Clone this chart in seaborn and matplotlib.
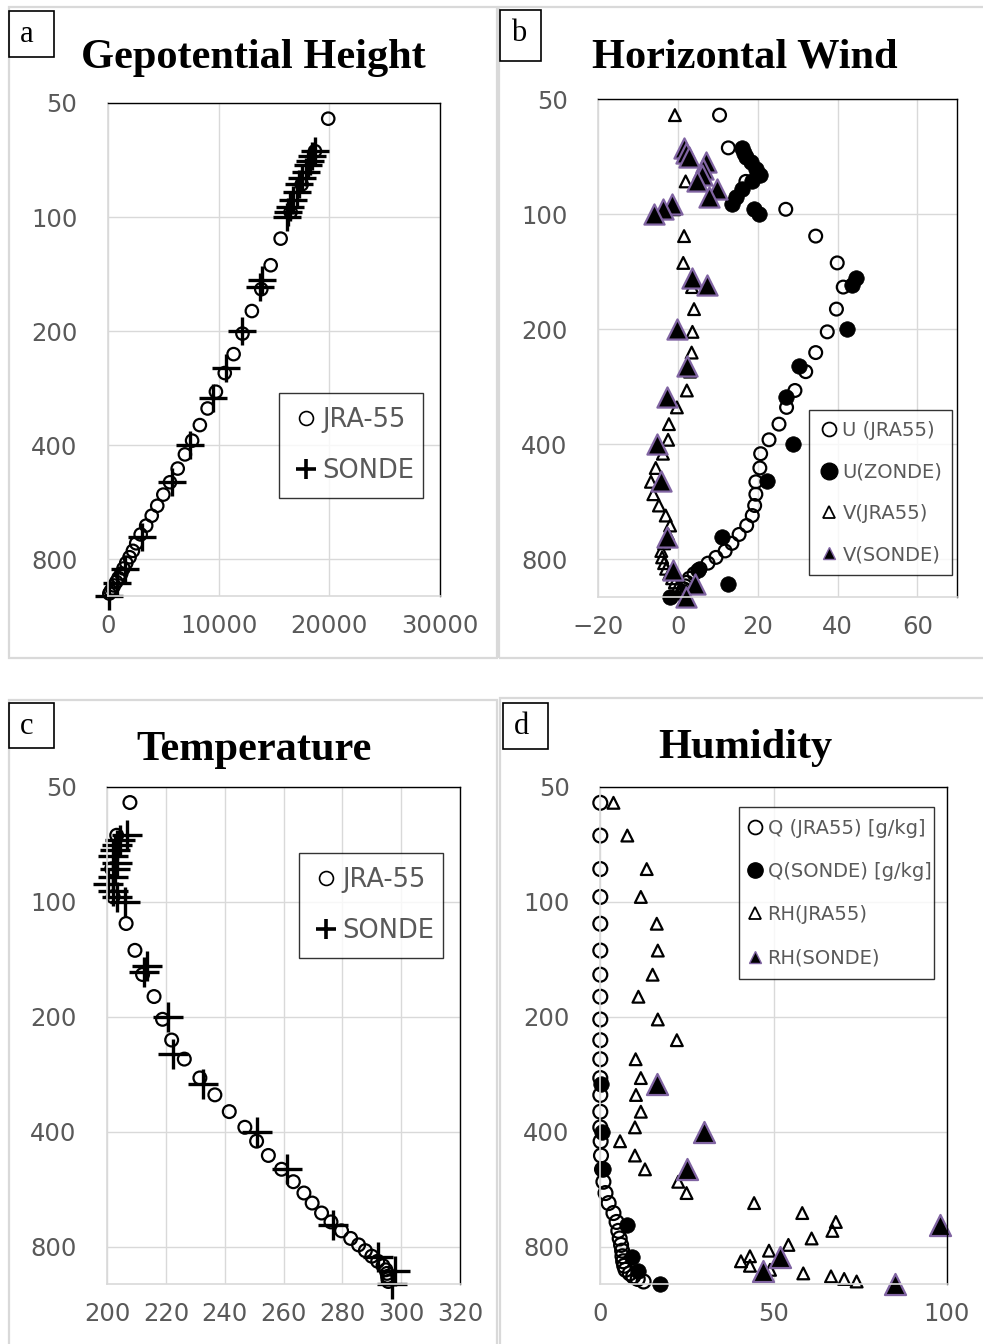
import matplotlib
matplotlib.use("Agg")
import matplotlib.pyplot as plt
from matplotlib.patches import Rectangle
from matplotlib.lines import Line2D
from matplotlib.ticker import NullLocator
import pandas as pd
import seaborn as sns

sns.set_style("white")
plt.rcParams['font.family'] = ['DejaVu Sans']

# ---- data ----
# JRA-55 levels (hPa)
jra_p = [55, 67, 82, 97, 114, 134, 155, 177, 203, 230, 258, 289, 320, 354, 389, 423, 461, 501,
         540, 578, 614, 652, 688, 726, 760, 790, 818, 846, 872, 896, 918, 938, 955, 970, 985]
jra_z = [19900, 18700, 17500, 16500, 15600, 14700, 13850, 13000, 12150, 11350,
         10550, 9750, 9000, 8300, 7600, 6950, 6300, 5600, 5000, 4450,
         3950, 3450, 2950, 2550, 2250, 1950, 1650, 1400, 1200, 950,
         750, 550, 400, 250, 120]
jra_t = [207.7, 203.2, 201.5, 202.0, 206.4, 209.4, 212.0, 215.9, 218.8, 221.9,
         226.2, 231.5, 236.6, 241.5, 246.8, 250.8, 254.8, 259.3, 263.3, 266.9,
         269.7, 272.9, 276.1, 279.7, 282.8, 285.5, 287.8, 290.0, 292.0, 293.8,
         294.8, 295.2, 295.4, 295.5, 295.6]
jra_u = [10.4, 12.6, 17.0, 27.0, 34.5, 39.9, 41.4, 39.7, 37.4, 34.5,
         32.0, 29.3, 27.2, 25.3, 22.8, 20.7, 20.5, 19.5, 19.5, 19.2,
         18.6, 17.2, 15.3, 13.5, 11.8, 9.5, 7.5, 5.5, 4.0, 2.8,
         2.2, 1.8, 1.5, 1.2, 1.0]
jra_v = [-0.8, 1.5, 1.9, -1.0, 1.5, 1.3, 3.5, 4.0, 3.6, 3.4,
         3.0, 2.2, -0.3, -2.3, -2.5, -3.8, -5.6, -6.8, -6.2, -4.8,
         -3.1, -2.0, -2.5, -3.5, -4.2, -4.0, -3.5, -3.0, -2.2, -1.5,
         -0.8, 0.0, 0.8, 1.3, 1.8]
jra_q = [0.0, 0.0, 0.0, 0.0, 0.0, 0.0, 0.0, 0.0, 0.0, 0.0,
         0.0, 0.0, 0.0, 0.0, 0.0, 0.1, 0.2, 0.5, 0.9, 1.5,
         2.4, 3.8, 4.7, 5.2, 5.6, 6.0, 6.3, 6.4, 6.6, 6.9,
         7.3, 8.5, 9.5, 10.8, 12.5]
jra_rh = [3.8, 7.8, 13.4, 11.7, 16.3, 16.6, 15.1, 11.0, 16.6, 22.1,
          10.2, 11.7, 10.3, 11.7, 10.0, 5.7, 10.0, 12.9, 22.5, 24.9,
          44.4, 58.3, 68.0, 67.0, 61.0, 54.3, 48.7, 43.2, 40.6, 43.2,
          49.0, 58.6, 66.6, 70.4, 74.0]

# radiosonde levels (hPa)
sonde_p = [67, 69, 71, 73, 76, 79, 82, 86, 90, 94, 97, 100,
           147, 153, 200, 250, 300, 400, 500, 700, 850, 925, 1000]
sonde_z = [18700, 18400, 18250, 18100, 17900, 17500, 17250, 17040, 16740, 16440, 16290, 16140,
           13900, 13700, 12100, 10700, 9500, 7400, 5800, 3050, 1550, 800, 60]
sonde_t = [206.6, 204.3, 203.2, 202.5, 202.0, 203.2, 202.5, 202.0, 200.3, 202.0, 203.2, 206.0,
           213.5, 212.5, 220.7, 222.4, 232.7, 250.8, 261.0, 276.9, 292.2, 298.0, 296.7]
sonde_u = [16.1, 16.5, 17.0, 18.2, 19.5, 20.5, 18.5, 16.0, 14.5, 13.6, 19.0, 20.3,
           44.5, 43.5, 42.3, 30.3, 27.0, 28.9, 22.4, 11.1, 5.0, 12.5, -2.0]
sonde_v = [1.5, 1.9, 2.7, 6.9, 6.3, 6.0, 4.8, 9.8, 7.7, -1.4, -3.9, -6.0,
           3.6, 7.3, -0.3, 2.3, -2.8, -5.3, -4.3, -2.7, -1.2, 4.3, 1.9]
moist_p = [300, 400, 500, 700, 850, 925, 1000]
sonde_q = [0.2, 0.4, 0.9, 7.6, 9.1, 11.0, 17.2]
sonde_rh = [16.3, 29.9, 24.9, 98.0, 52.0, 47.0, 85.0]

p_ticks = [50, 100, 200, 400, 800]

jra = pd.DataFrame({'p': jra_p, 'z': jra_z, 't': jra_t, 'u': jra_u, 'v': jra_v,
                    'q': jra_q, 'rh': jra_rh})
sonde = pd.DataFrame({'p': sonde_p, 'z': sonde_z, 't': sonde_t, 'u': sonde_u, 'v': sonde_v})
moist = pd.DataFrame({'p': moist_p, 'q': sonde_q, 'rh': sonde_rh})

GRID = '#d9d9d9'
TICK = '#595959'
PURPLE = '#8064A2'
W, H = 983, 1344

fig = plt.figure(figsize=(W / 100, H / 100), dpi=100)


def px_axes(x0, y0, x1, y1):
    return fig.add_axes([x0 / W, 1 - y1 / H, (x1 - x0) / W, (y1 - y0) / H])


def frame(x0, y0, x1, y1, **kw):
    fig.add_artist(Rectangle((x0 / W, 1 - y1 / H), (x1 - x0) / W, (y1 - y0) / H,
                             transform=fig.transFigure, fill=False, **kw))


def style(ax, xlim, xticks, xlabels):
    ax.set_yscale('log', base=2)
    ax.set_ylim(1000, 50)
    ax.set_yticks(p_ticks)
    ax.set_yticklabels([str(v) for v in p_ticks])
    ax.yaxis.set_minor_locator(NullLocator())
    ax.set_xlim(*xlim)
    ax.set_xticks(xticks)
    ax.set_xticklabels(xlabels)
    ax.set_xlabel('')
    ax.set_ylabel('')
    ax.grid(True, color=GRID, lw=1.0)
    ax.set_axisbelow(True)
    ax.tick_params(length=0, labelsize=17.5, labelcolor=TICK)
    ax.tick_params(axis='y', pad=22)
    ax.tick_params(axis='x', pad=13)
    for s in ['top', 'right']:
        ax.spines[s].set_color('black')
        ax.spines[s].set_linewidth(1.0)
    for s in ['left', 'bottom']:
        ax.spines[s].set_color(GRID)
        ax.spines[s].set_linewidth(1.2)


def panel_deco(letter, box, title, tx, ty):
    x0, y0, x1, y1 = box
    frame(x0, y0, x1, y1, ec='black', lw=1.2, zorder=5)
    fig.text((x0 + 11) / W, 1 - (y0 + 31) / H, letter, family='Liberation Serif',
             fontsize=22, va='baseline', ha='left', color='black')
    fig.text(tx / W, 1 - ty / H, title, family='Liberation Serif', fontweight='bold',
             fontsize=30.5, va='baseline', ha='center', color='black')


def legend(ax, handles, labels, box, fs, ls, bp, hl, htp):
    x0, y0, x1, y1 = box
    leg = ax.legend(handles, labels, loc='upper left', mode='expand',
                    bbox_to_anchor=(x0 / W, 1 - y0 / H, (x1 - x0) / W, 0),
                    bbox_transform=fig.transFigure, borderaxespad=0,
                    fontsize=fs, labelspacing=ls, borderpad=bp, handlelength=hl,
                    handletextpad=htp, frameon=True, fancybox=False,
                    edgecolor='black', labelcolor=TICK)
    leg.get_frame().set_linewidth(1.0)
    leg.set_zorder(10)


# chart area frames
frame(9, 7.5, 497.5, 658, ec=GRID, lw=1.6)
frame(498.5, 7, 990, 658, ec=GRID, lw=1.6)
frame(9, 700, 497.5, 1360, ec=GRID, lw=1.6)
frame(500, 698, 990, 1360, ec=GRID, lw=1.6)

open_kw = dict(color='black', facecolor='none', edgecolor='black', linewidth=1.6, clip_on=False)

# ---- a: geopotential height ----
ax = px_axes(108, 103, 440, 596)
sns.scatterplot(data=jra, x='z', y='p', marker='o', s=80, ax=ax, **open_kw)
sns.scatterplot(data=sonde, x='z', y='p', marker='+', s=400, color='black', linewidth=2.4,
                clip_on=False, ax=ax)
style(ax, (0, 30000), [0, 10000, 20000, 30000], ['0', '10000', '20000', '30000'])
panel_deco('a', (9, 11, 54, 57), 'Gepotential Height', 253, 68)
legend(ax,
       [Line2D([], [], ls='none', marker='o', ms=10, mfc='none', mec='black', mew=1.2),
        Line2D([], [], ls='none', marker='+', ms=15, mec='black', mew=2.6)],
       ['JRA-55', 'SONDE'], (279, 393, 423, 503), 18.5, 0.95, 0.55, 1.0, 0.15)

# ---- b: horizontal wind ----
ax = px_axes(598.3, 99.3, 957.3, 596.5)
sns.scatterplot(data=jra, x='u', y='p', marker='o', s=85, ax=ax, **open_kw)
sns.scatterplot(data=sonde, x='u', y='p', marker='o', s=125, color='black',
                edgecolor='black', linewidth=0.5, clip_on=False, ax=ax)
sns.scatterplot(data=jra, x='v', y='p', marker='^', s=72, ax=ax, **open_kw)
sns.scatterplot(data=sonde, x='v', y='p', marker='^', s=210, color='black',
                edgecolor=PURPLE, linewidth=1.6, clip_on=False, ax=ax)
style(ax, (-20, 70), [-20, 0, 20, 40, 60], ['\u221220', '0', '20', '40', '60'])
panel_deco('b', (500, 10, 541, 61), 'Horizontal Wind', 744.5, 67)
legend(ax,
       [Line2D([], [], ls='none', marker='o', ms=10, mfc='none', mec='black', mew=1.3),
        Line2D([], [], ls='none', marker='o', ms=12, mfc='black', mec='black'),
        Line2D([], [], ls='none', marker='^', ms=9, mfc='none', mec='black', mew=1.3),
        Line2D([], [], ls='none', marker='^', ms=9, mfc='black', mec=PURPLE, mew=1.0)],
       ['U (JRA55)', 'U(ZONDE)', 'V(JRA55)', 'V(SONDE)'],
       (809, 410, 952, 590), 14, 1.15, 0.57, 0.95, 0.2)

# ---- c: temperature ----
ax = px_axes(107.3, 786.7, 460, 1284)
sns.scatterplot(data=jra, x='t', y='p', marker='o', s=85, ax=ax, **open_kw)
sns.scatterplot(data=sonde, x='t', y='p', marker='+', s=466, color='black', linewidth=2.4,
                clip_on=False, ax=ax)
ct = [200, 220, 240, 260, 280, 300, 320]
style(ax, (200, 320), ct, [str(v) for v in ct])
panel_deco('c', (9, 703, 54, 748), 'Temperature', 254, 760)
legend(ax,
       [Line2D([], [], ls='none', marker='o', ms=10, mfc='none', mec='black', mew=1.2),
        Line2D([], [], ls='none', marker='+', ms=15, mec='black', mew=2.6)],
       ['JRA-55', 'SONDE'], (299, 853, 443, 963), 18.5, 0.95, 0.55, 1.0, 0.15)

# ---- d: humidity ----
ax = px_axes(600.3, 787, 946.7, 1284)
sns.scatterplot(data=jra, x='q', y='p', marker='o', s=100, ax=ax, **open_kw)
sns.scatterplot(data=moist, x='q', y='p', marker='o', s=125, color='black',
                edgecolor='black', linewidth=0.5, clip_on=False, ax=ax)
sns.scatterplot(data=jra, x='rh', y='p', marker='^', s=72, ax=ax, **open_kw)
sns.scatterplot(data=moist, x='rh', y='p', marker='^', s=230, color='black',
                edgecolor=PURPLE, linewidth=1.6, clip_on=False, ax=ax)
style(ax, (0, 100), [0, 50, 100], ['0', '50', '100'])
panel_deco('d', (503, 703, 548, 749), 'Humidity', 745.3, 758)
legend(ax,
       [Line2D([], [], ls='none', marker='o', ms=10, mfc='none', mec='black', mew=1.3),
        Line2D([], [], ls='none', marker='o', ms=11, mfc='black', mec='black'),
        Line2D([], [], ls='none', marker='^', ms=9, mfc='none', mec='black', mew=1.3),
        Line2D([], [], ls='none', marker='^', ms=8, mfc='black', mec=PURPLE, mew=1.0)],
       ['Q (JRA55) [g/kg]', 'Q(SONDE) [g/kg]', 'RH(JRA55)', 'RH(SONDE)'],
       (739, 807, 934, 994), 14, 1.24, 0.62, 0.4, 0.45)

fig.savefig('out.png', dpi=100)
